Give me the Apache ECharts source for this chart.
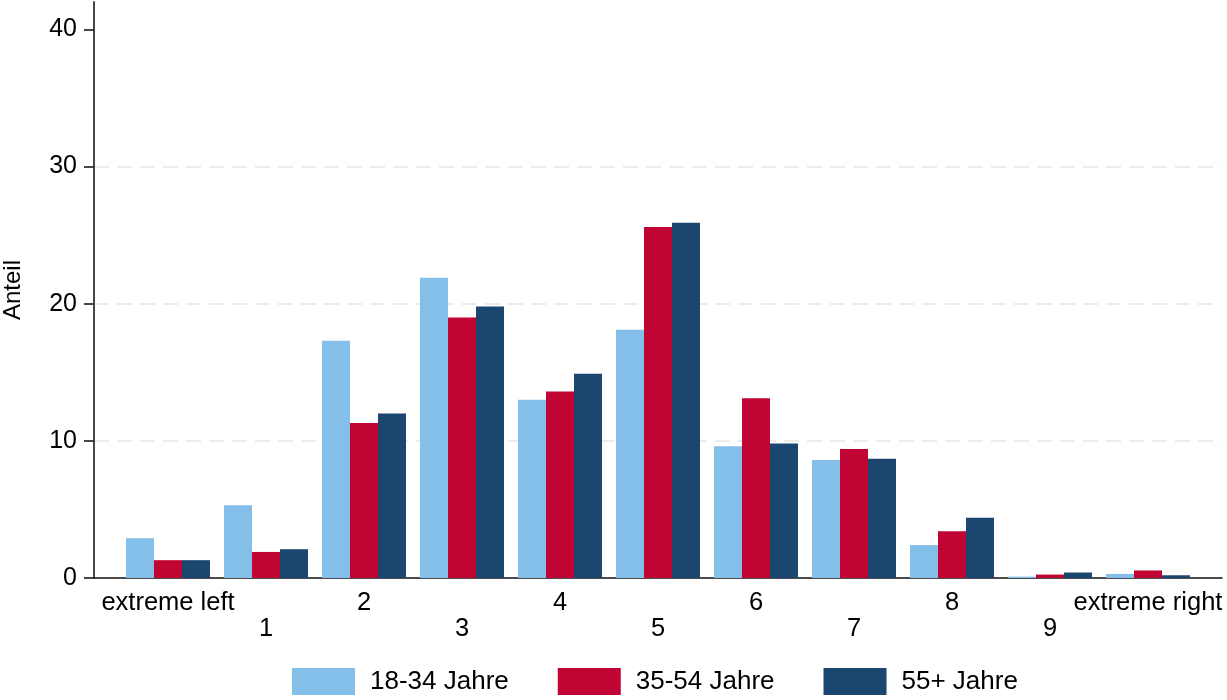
<!DOCTYPE html>
<html>
<head>
<meta charset="utf-8">
<script src="https://cdn.jsdelivr.net/npm/echarts@6/dist/echarts.min.js"></script>
<style>
  html, body { margin: 0; padding: 0; background: #fff; }
  #chart { width: 1227px; height: 700px; }
</style>
</head>
<body>
<div id="chart"></div>
<script>
const categories = ['extreme left', '1', '2', '3', '4', '5', '6', '7', '8', '9', 'extreme right'];
const seriesNames = ['18-34 Jahre', '35-54 Jahre', '55+ Jahre'];
const age18to34 = [2.9, 5.3, 17.3, 21.9, 13.0, 18.1, 9.6, 8.6, 2.4, 0.1, 0.3];
const age35to54 = [1.3, 1.9, 11.3, 19.0, 13.6, 25.6, 13.1, 9.4, 3.4, 0.25, 0.55];
const age55plus = [1.3, 2.1, 12.0, 19.8, 14.9, 25.9, 9.8, 8.7, 4.4, 0.4, 0.2];
const yTicks = [0, 10, 20, 30, 40];
const colors = ['#84BFE9', '#C00433', '#1B466F'];

const FONT = '"Liberation Sans", Arial, Helvetica, sans-serif';
const allValues = [age18to34, age35to54, age55plus];

const chart = echarts.init(document.getElementById('chart'), null, { renderer: 'canvas' });
chart.setOption({
  animation: false,
  backgroundColor: '#ffffff',
  textStyle: { fontFamily: FONT, color: '#000' },
  grid: [
    // frame grid: axis lines, ticks, gridlines
    { left: 94, right: 5, top: 2, bottom: 122, containLabel: false, outerBoundsMode: 'none' },
    // bar grid: categories
    { left: 119, right: 30, top: 2, bottom: 122, containLabel: false, outerBoundsMode: 'none' }
  ],
  legend: {
    data: seriesNames,
    left: 292,
    top: 668,
    padding: 0,
    itemWidth: 63,
    itemHeight: 27,
    itemGap: 49,
    icon: 'rect',
    textStyle: { fontFamily: FONT, fontSize: 26, color: '#000', padding: [0, 0, 0, 10] }
  },
  xAxis: [
    {
      gridIndex: 0,
      type: 'value',
      min: 0,
      max: 1,
      axisLine: { show: true, onZero: false, lineStyle: { color: '#111', width: 1.6 } },
      axisTick: { show: false },
      axisLabel: { show: false },
      splitLine: { show: false }
    },
    {
      gridIndex: 1,
      type: 'category',
      data: categories,
      boundaryGap: true,
      axisLine: { show: false },
      axisTick: { show: false },
      splitLine: { show: false },
      axisLabel: {
        interval: 0,
        hideOverlap: false,
        margin: 12,
        fontFamily: FONT,
        fontSize: 25.5,
        lineHeight: 26,
        color: '#000',
        formatter: function (v, i) {
          return i % 2 === 1 ? '\n' + v : v;
        }
      }
    }
  ],
  yAxis: [
    {
      gridIndex: 0,
      type: 'value',
      min: 0,
      max: 42,
      interval: 10,
      name: 'Anteil',
      nameLocation: 'middle',
      nameGap: 69,
      nameTextStyle: { fontFamily: FONT, fontSize: 24, color: '#000' },
      axisLine: { show: true, onZero: false, lineStyle: { color: '#333', width: 1.8 } },
      axisTick: { show: true, length: 10, customValues: yTicks, lineStyle: { color: '#333', width: 1.8 } },
      axisLabel: {
        customValues: yTicks,
        margin: 17,
        fontFamily: FONT,
        fontSize: 25,
        color: '#000'
      },
      splitLine: {
        show: true,
        showMinLine: false,
        showMaxLine: false,
        lineStyle: { color: '#ececec', width: 2, type: [15, 8] }
      }
    },
    {
      gridIndex: 1,
      type: 'value',
      min: 0,
      max: 42,
      interval: 10,
      show: false,
      splitLine: { show: false }
    }
  ],
  series: seriesNames.map((name, s) => ({
    name: name,
    type: 'bar',
    xAxisIndex: 1,
    yAxisIndex: 1,
    barWidth: 28,
    barGap: '0%',
    itemStyle: { color: colors[s] },
    data: allValues[s]
  }))
});
</script>
</body>
</html>
